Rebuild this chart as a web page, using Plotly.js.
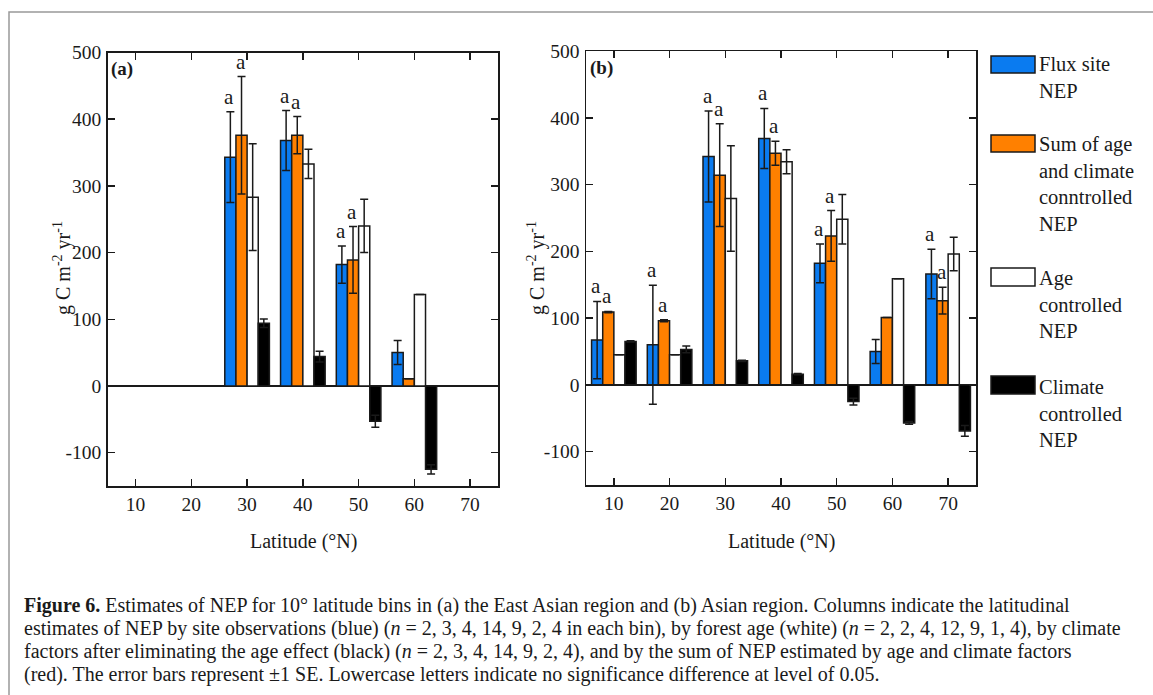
<!DOCTYPE html>
<html>
<head>
<meta charset="utf-8">
<script src="https://cdn.plot.ly/plotly-3.0.1.min.js"></script>
<style>
html,body{margin:0;padding:0;background:#fff;}
#chart{width:1153px;height:695px;}
</style>
</head>
<body>
<div id="chart"></div>
<script>
// ---------- data ----------
const latA = [30, 40, 50, 60];
const fluxA = [343, 368, 182, 50];
const fluxErrA = [68, 45, 28, 18];
const sumA = [376, 376, 189, 11];
const sumErrA = [88, 28, 50, null];
const ageA = [283, 333, 240, 137];
const ageErrA = [80, 22, 40, null];
const climA = [94, 44, -53, -125];
const climErrA = [6.5, 8, 9, 7];
const fluxLetA = ['a', 'a', 'a', ''];
const sumLetA = ['a', 'a', 'a', ''];

const latB = [10, 20, 30, 40, 50, 60, 70];
const fluxB = [67, 60, 342, 369, 182, 50, 166];
const fluxErrB = [58, 89, 68, 45, 29, 18, 37];
const sumB = [109, 96, 314, 347, 223, 101, 126];
const sumErrB = [1, 1.5, 77, 18, 38, null, 20];
const ageB = [45, 45, 279, 334, 248, 159, 196];
const ageErrB = [null, null, 79, 18, 37, null, 25];
const climB = [65, 53, 36, 16, -25, -57, -69];
const climErrB = [1, 5, 1, 1, 5, 2, 8];
const fluxLetB = ['a', 'a', 'a', 'a', 'a', '', 'a'];
const sumLetB = ['a', 'a', 'a', 'a', 'a', '', 'a'];

const xTicks = [10, 20, 30, 40, 50, 60, 70];
const yTicks = [-100, 0, 100, 200, 300, 400, 500];
const yTickText = ['-100', '0', '100', '200', '300', '400', '500'];

const seriesNames = ['Flux site<br>NEP', 'Sum of age<br>and climate<br>conntrolled<br>NEP', 'Age<br>controlled<br>NEP', 'Climate<br>controlled<br>NEP'];
const seriesColors = ['#0a7bf0', '#ff8000', '#ffffff', '#000000'];

const captionLines = [
  '<b>Figure 6.</b> Estimates of NEP for 10° latitude bins in (a) the East Asian region and (b) Asian region. Columns indicate the latitudinal',
  'estimates of NEP by site observations (blue) (<i>n</i> = 2, 3, 4, 14, 9, 2, 4 in each bin), by forest age (white) (<i>n</i> = 2, 2, 4, 12, 9, 1, 4), by climate',
  'factors after eliminating the age effect (black) (<i>n</i> = 2, 3, 4, 14, 9, 2, 4), and by the sum of NEP estimated by age and climate factors',
  '(red). The error bars represent ±1 SE. Lowercase letters indicate no significance difference at level of 0.05.'
];

// ---------- helpers ----------
const W = 1153, H = 695;
const px = x => x / W;
const py = y => 1 - y / H;
const FONT = 'Liberation Serif, Times New Roman, serif';
const INK = '#1a1a1a';

function barTrace(x, y, err, color, xa, ya) {
  return {
    type: 'bar', x: x, y: y, xaxis: xa, yaxis: ya,
    marker: {color: color, line: {color: INK, width: 1.5}},
    error_y: {type: 'data', array: err, visible: true, color: INK, thickness: 1.5, width: 4},
    hoverinfo: 'skip'
  };
}

const traces = [
  barTrace(latA, fluxA, fluxErrA, seriesColors[0], 'x', 'y'),
  barTrace(latA, sumA, sumErrA, seriesColors[1], 'x', 'y'),
  barTrace(latA, ageA, ageErrA, seriesColors[2], 'x', 'y'),
  barTrace(latA, climA, climErrA, seriesColors[3], 'x', 'y'),
  barTrace(latB, fluxB, fluxErrB, seriesColors[0], 'x2', 'y2'),
  barTrace(latB, sumB, sumErrB, seriesColors[1], 'x2', 'y2'),
  barTrace(latB, ageB, ageErrB, seriesColors[2], 'x2', 'y2'),
  barTrace(latB, climB, climErrB, seriesColors[3], 'x2', 'y2')
];

const annotations = [];
// significance letters (bar width = 2 units, 4 bars per 10-unit bin with gap 0.2)
function letters(lat, vals, errs, lets, offset, xr, yr) {
  lat.forEach((l, i) => {
    if (!lets[i]) return;
    annotations.push({
      x: l + offset, y: vals[i] + (errs[i] || 0), xref: xr, yref: yr,
      text: lets[i], showarrow: false, xanchor: 'center', yanchor: 'bottom', yshift: 1, xshift: -1,
      font: {family: FONT, size: 21, color: INK}
    });
  });
}
letters(latA, fluxA, fluxErrA, fluxLetA, -3, 'x', 'y');
letters(latA, sumA, sumErrA, sumLetA, -1, 'x', 'y');
letters(latB, fluxB, fluxErrB, fluxLetB, -3, 'x2', 'y2');
letters(latB, sumB, sumErrB, sumLetB, -1, 'x2', 'y2');

// panel labels
annotations.push({xref: 'paper', yref: 'paper', x: px(109), y: py(56), xanchor: 'left', yanchor: 'top',
  text: '<b>(a)</b>', showarrow: false, font: {family: FONT, size: 19, color: INK}});
annotations.push({xref: 'paper', yref: 'paper', x: px(588), y: py(55), xanchor: 'left', yanchor: 'top',
  text: '<b>(b)</b>', showarrow: false, font: {family: FONT, size: 19, color: INK}});

// axis titles
const yTitle = 'g C m<sup>-2</sup> yr<sup>-1</sup>';
[[62, 268], [536, 268]].forEach(p => annotations.push({
  xref: 'paper', yref: 'paper', x: px(p[0]), y: py(p[1]), xanchor: 'center', yanchor: 'middle',
  textangle: -90, text: yTitle, showarrow: false, font: {family: FONT, size: 20, color: INK}
}));
[[303, 541], [781, 541]].forEach(p => annotations.push({
  xref: 'paper', yref: 'paper', x: px(p[0]), y: py(p[1]), xanchor: 'center', yanchor: 'middle',
  text: 'Latitude (°N)', showarrow: false, font: {family: FONT, size: 20, color: INK}
}));

// legend (drawn manually)
const shapes = [];
const legBoxes = [[56, 73], [135, 152], [268, 286], [376, 394]];
const legTextCenters = [77, 184, 305, 413];
seriesNames.forEach((name, i) => {
  shapes.push({type: 'rect', xref: 'paper', yref: 'paper',
    x0: px(991), x1: px(1035), y0: py(legBoxes[i][1]), y1: py(legBoxes[i][0]),
    fillcolor: seriesColors[i], line: {color: INK, width: 1.5}});
  annotations.push({xref: 'paper', yref: 'paper', x: px(1037), y: py(legTextCenters[i]),
    xanchor: 'left', yanchor: 'middle', align: 'left', text: name, showarrow: false,
    font: {family: FONT, size: 20.5, color: INK}});
});

// figure frame
shapes.push({type: 'rect', xref: 'paper', yref: 'paper', x0: px(9), x1: px(1165), y0: py(705), y1: py(12),
  line: {color: '#999', width: 1.5}, fillcolor: 'rgba(0,0,0,0)'});

// caption
const capY = [605, 628, 651, 674];
captionLines.forEach((t, i) => annotations.push({
  xref: 'paper', yref: 'paper', x: px(22), y: py(capY[i]), xanchor: 'left', yanchor: 'middle',
  align: 'left', text: t, showarrow: false, font: {family: FONT, size: 20, color: INK}
}));

function xAxis(domain, anchor) {
  return {domain: domain, anchor: anchor, range: [5, 75], tickmode: 'array', tickvals: xTicks,
    ticks: 'inside', ticklen: 7, tickwidth: 1.5, tickcolor: INK, showline: true, mirror: 'ticks',
    linecolor: INK, linewidth: 1.5, showgrid: false, zeroline: false, fixedrange: true,
    tickfont: {family: FONT, size: 19.5, color: INK}};
}
function yAxis(domain, anchor) {
  return {domain: domain, anchor: anchor, range: [-150, 500], tickmode: 'array', tickvals: yTicks,
    ticktext: yTickText, ticks: 'inside', ticklen: 7, tickwidth: 1.5, tickcolor: INK, showline: true,
    mirror: 'ticks', linecolor: INK, linewidth: 1.5, showgrid: false, zeroline: true,
    zerolinecolor: INK, zerolinewidth: 1.5, fixedrange: true, ticklabelstandoff: 1,
    tickfont: {family: FONT, size: 19.5, color: INK}};
}

const layout = {
  width: W, height: H, margin: {l: 0, r: 0, t: 0, b: 0},
  paper_bgcolor: '#fff', plot_bgcolor: '#fff',
  barmode: 'group', bargap: 0.2, bargroupgap: 0,
  showlegend: false, hovermode: false,
  xaxis: xAxis([px(107.7), px(498)], 'y'),
  yaxis: yAxis([py(486), py(52.5)], 'x'),
  xaxis2: xAxis([px(586), px(976)], 'y2'),
  yaxis2: yAxis([py(485), py(51)], 'x2'),
  annotations: annotations,
  shapes: shapes
};

Plotly.newPlot('chart', traces, layout, {staticPlot: true, displayModeBar: false});
</script>
</body>
</html>
